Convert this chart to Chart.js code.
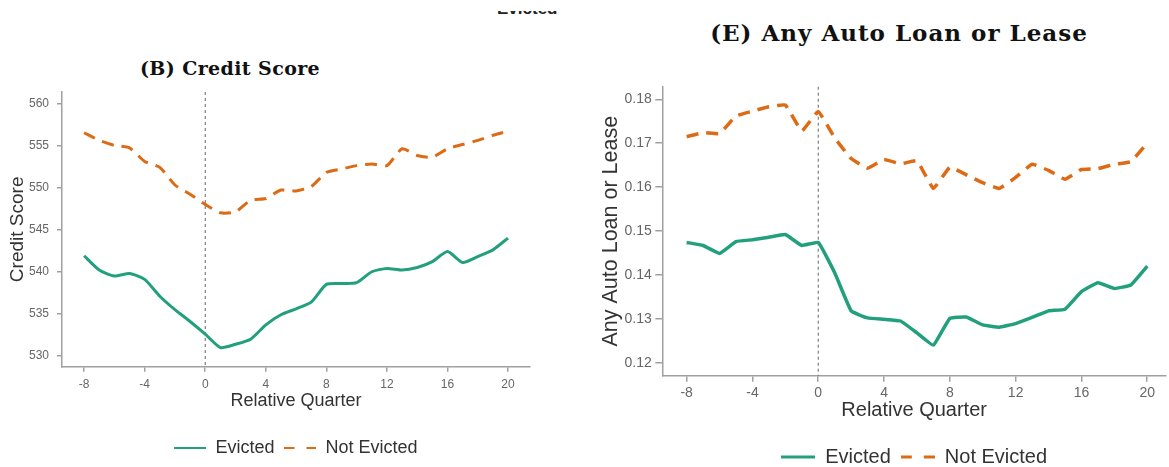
<!DOCTYPE html>
<html>
<head>
<meta charset="utf-8">
<script src="https://cdn.jsdelivr.net/npm/chart.js@4/dist/chart.umd.min.js"></script>
<style>
  body { margin: 0; width: 1169px; height: 467px; overflow: hidden; background: #fff; position: relative; }
  canvas { position: absolute; top: 0; }
  .ttl { position: absolute; text-align: center; font-family: "DejaVu Serif", serif; font-weight: bold; color: #111; white-space: nowrap; }
  .cut { position: absolute; left: 497px; top: 11px; width: 70px; height: 5px; overflow: hidden; }
  .cut span { position: absolute; top: -12px; left: 0; font: bold 17px "Liberation Sans", sans-serif; color: #222; }
</style>
</head>
<body>
<div class="cut"><span>Evicted</span></div>
<div class="ttl" style="left:120px; width:220px; top:56px; line-height:24px; font-size:19px; letter-spacing:0.4px;">(B) Credit Score</div>
<div class="ttl" style="left:689px; width:420px; top:21px; line-height:24px; font-size:23px; letter-spacing:1px;">(E) Any Auto Loan or Lease</div>
<canvas id="chartCredit" width="590" height="467" style="left:0"></canvas>
<canvas id="chartAuto" width="579" height="477" style="left:590px"></canvas>
<script>
// quarters relative to the eviction filing
const quarters = [-8, -7, -6, -5, -4, -3, -2, -1, 0, 1, 2, 3, 4, 5, 6, 7, 8, 9, 10, 11, 12, 13, 14, 15, 16, 17, 18, 19, 20];
const seriesNames = ['Evicted', 'Not Evicted'];
const eventQuarter = 0;

// (B) credit score
const creditEvicted = [541.9, 540.2, 539.5, 539.8, 539.1, 537.1, 535.5, 534.1, 532.6, 531.0, 531.4, 532.0, 533.7, 534.9, 535.6, 536.4, 538.5, 538.6, 538.7, 540.0, 540.4, 540.2, 540.5, 541.2, 542.4, 541.1, 541.8, 542.6, 544.0];
const creditNotEvicted = [556.5, 555.6, 555.0, 554.7, 553.1, 552.4, 550.3, 549.2, 548.0, 547.0, 547.1, 548.5, 548.7, 549.7, 549.6, 550.1, 551.8, 552.2, 552.6, 552.8, 552.6, 554.6, 553.8, 553.6, 554.6, 555.1, 555.6, 556.2, 556.7];

// (E) any auto loan or lease
const autoEvicted = [0.1474, 0.1467, 0.1449, 0.1476, 0.1480, 0.1486, 0.1492, 0.1467, 0.1474, 0.1405, 0.1318, 0.1302, 0.1299, 0.1295, 0.1268, 0.1240, 0.1301, 0.1304, 0.1286, 0.1281, 0.1289, 0.1303, 0.1318, 0.1322, 0.1362, 0.1382, 0.1369, 0.1377, 0.1420];
const autoNotEvicted = [0.1715, 0.1724, 0.1722, 0.1762, 0.1773, 0.1783, 0.1787, 0.1728, 0.1772, 0.1712, 0.1665, 0.1643, 0.1663, 0.1653, 0.1660, 0.1597, 0.1645, 0.1628, 0.1610, 0.1597, 0.1622, 0.1652, 0.1638, 0.1618, 0.1640, 0.1642, 0.1652, 0.1658, 0.1700];

const xTicks = [-8, -4, 0, 4, 8, 12, 16, 20];
const creditTicks = [530, 535, 540, 545, 550, 555, 560];
const autoTicks = [0.12, 0.13, 0.14, 0.15, 0.16, 0.17, 0.18];

const green = '#22a07e';
const orange = '#dd6a14';
const axisGrey = '#a0a0a0';
const sans = 'Liberation Sans';
const dash = [12, 8];

const pts = ys => quarters.map((q, i) => ({ x: q, y: ys[i] }));

// little canvas used as the legend sample, so the dash shows up
function sample(color, lineDash, w, lw) {
  const c = document.createElement('canvas');
  c.width = w;
  c.height = Math.ceil(lw) + 2;
  const g = c.getContext('2d');
  g.strokeStyle = color;
  g.lineWidth = lw;
  g.setLineDash(lineDash);
  g.beginPath();
  g.moveTo(0, c.height / 2);
  g.lineTo(w, c.height / 2);
  g.stroke();
  return c;
}

// dotted line at the filing quarter
const eventLine = {
  id: 'eventLine',
  beforeDatasetsDraw(chart) {
    const { ctx, chartArea, scales } = chart;
    const px = scales.x.getPixelForValue(eventQuarter);
    ctx.save();
    ctx.strokeStyle = '#666';
    ctx.lineWidth = 1;
    ctx.setLineDash([3, 3]);
    ctx.beginPath();
    ctx.moveTo(px, chartArea.top);
    ctx.lineTo(px, chartArea.bottom);
    ctx.stroke();
    ctx.restore();
  }
};

function panel(id, o) {
  const gap = 12;
  const samples = [
    sample(green, [], o.legendLine, o.legendLw),
    sample(orange, [(o.legendLine - gap) / 2, gap], o.legendLine, o.legendLw)
  ];
  return new Chart(document.getElementById(id), {
    type: 'line',
    data: {
      datasets: [{
        label: seriesNames[0],
        data: pts(o.evicted),
        borderColor: green,
        borderWidth: o.lw,
        pointRadius: 0,
        tension: o.tension
      }, {
        label: seriesNames[1],
        data: pts(o.notEvicted),
        borderColor: orange,
        borderWidth: o.lw,
        borderDash: dash,
        pointRadius: 0,
        tension: o.tension
      }]
    },
    options: {
      responsive: false,
      animation: false,
      layout: { padding: o.padding },
      plugins: {
        legend: {
          position: 'bottom',
          fullSize: false,
          labels: {
            usePointStyle: true,
            pointStyleWidth: o.legendLine,
            padding: 10,
            color: '#333',
            font: { family: sans, size: o.legendSize },
            generateLabels: chart => Chart.defaults.plugins.legend.labels.generateLabels(chart)
              .map((l, i) => Object.assign(l, { pointStyle: samples[i] }))
          }
        },
        tooltip: { enabled: false }
      },
      scales: {
        x: {
          type: 'linear',
          min: o.xMin,
          max: o.xMax,
          afterFit: s => { s.height = o.xHeight; },
          afterBuildTicks: s => { s.ticks = xTicks.map(v => ({ value: v })); },
          border: { color: axisGrey, width: 1.5 },
          grid: { drawOnChartArea: false, tickLength: o.xTickLen, color: axisGrey, lineWidth: 1.5 },
          ticks: { color: '#666', padding: o.xTickPad, font: { family: sans, size: o.tickSize }, maxRotation: 0 },
          title: { display: true, text: 'Relative Quarter', color: '#333', font: { family: sans, size: o.xTitleSize }, padding: { top: 0, bottom: o.xTitlePad } }
        },
        y: {
          min: o.yMin,
          max: o.yMax,
          afterFit: s => { s.width = o.yWidth; },
          afterBuildTicks: s => { s.ticks = o.yTicks.map(v => ({ value: v })); },
          border: { color: axisGrey, width: 1.5 },
          grid: { drawOnChartArea: false, tickLength: o.yTickLen, color: axisGrey, lineWidth: 1.5 },
          ticks: { color: '#666', padding: o.yTickPad, font: { family: sans, size: o.tickSize }, callback: o.fmt },
          title: { display: true, text: o.yTitle, color: '#333', font: { family: sans, size: o.yTitleSize }, padding: { top: o.yTitlePad, bottom: 0 } }
        }
      }
    },
    plugins: [eventLine]
  });
}

if (document.getElementById('chartCredit')) {
  panel('chartCredit', {
    evicted: creditEvicted, notEvicted: creditNotEvicted, yTicks: creditTicks,
    yTitle: 'Credit Score', fmt: v => v,
    xMin: -9.46, xMax: 21.45, yMin: 528.73, yMax: 561.34,
    padding: { top: 92, right: 60, left: 0, bottom: 0 },
    yWidth: 62, xHeight: 62.3,
    lw: 3, tension: 0.2,
    tickSize: 12, xTickLen: 5, xTickPad: 5.4, yTickLen: 5, yTickPad: 8,
    xTitleSize: 18, xTitlePad: 17.5, yTitleSize: 19, yTitlePad: 6.6,
    legendSize: 18, legendLine: 32, legendLw: 2
  });
}

if (document.getElementById('chartAuto')) {
  panel('chartAuto', {
    evicted: autoEvicted, notEvicted: autoNotEvicted, yTicks: autoTicks,
    yTitle: 'Any Auto Loan or Lease', fmt: v => v.toFixed(2),
    xMin: -9.48, xMax: 21.14, yMin: 0.11704, yMax: 0.18287,
    padding: { top: 86.7, right: 3, left: 0, bottom: 0 },
    yWidth: 72.3, xHeight: 61.3,
    lw: 3.5, tension: 0.1,
    tickSize: 14, xTickLen: 6, xTickPad: 3.2, yTickLen: 7, yTickPad: 3.6,
    xTitleSize: 20, xTitlePad: 15, yTitleSize: 21.5, yTitlePad: 8.1,
    legendSize: 20, legendLine: 34, legendLw: 3
  });
}
</script>
</body>
</html>
